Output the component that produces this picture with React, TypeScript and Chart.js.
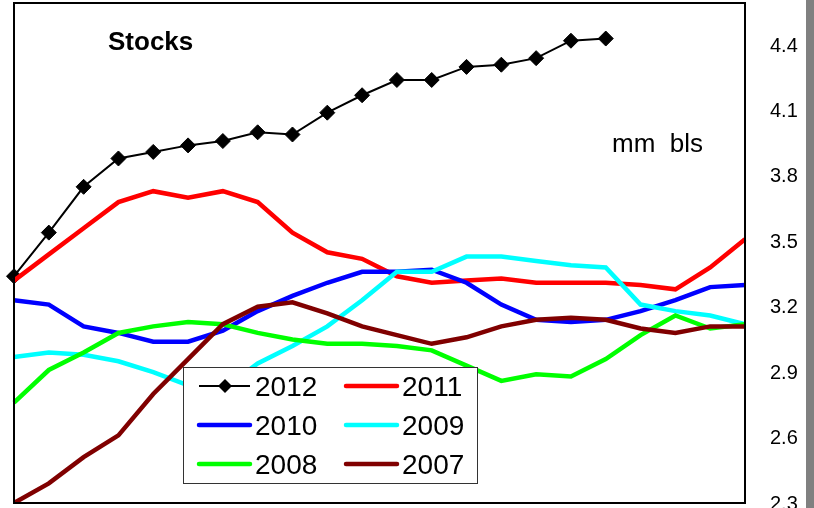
import React, { useEffect, useRef } from "react";
import { Chart, registerables } from "chart.js";

Chart.register(...registerables);

const categories = ["1", "2", "3", "4", "5", "6", "7", "8", "9", "10", "11", "12", "13", "14", "15", "16", "17", "18", "19", "20", "21", "22"];

const seriesLabels = ["2012", "2011", "2010", "2009", "2008", "2007"];

const s2012 = [3.34, 3.54, 3.75, 3.88, 3.91, 3.94, 3.96, 4.0, 3.99, 4.09, 4.17, 4.24, 4.24, 4.3, 4.31, 4.34, 4.42, 4.43];
const s2011 = [3.32, 3.44, 3.56, 3.68, 3.73, 3.7, 3.73, 3.68, 3.54, 3.45, 3.42, 3.34, 3.31, 3.32, 3.33, 3.31, 3.31, 3.31, 3.3, 3.28, 3.38, 3.51];
const s2010 = [3.23, 3.21, 3.11, 3.08, 3.04, 3.04, 3.09, 3.18, 3.25, 3.31, 3.36, 3.36, 3.37, 3.31, 3.21, 3.14, 3.13, 3.14, 3.18, 3.23, 3.29, 3.3];
const s2009 = [2.97, 2.99, 2.98, 2.95, 2.9, 2.84, 2.82, 2.94, 3.02, 3.11, 3.23, 3.36, 3.36, 3.43, 3.43, 3.41, 3.39, 3.38, 3.21, 3.18, 3.16, 3.12];
const s2008 = [2.76, 2.91, 2.99, 3.08, 3.11, 3.13, 3.12, 3.08, 3.05, 3.03, 3.03, 3.02, 3.0, 2.93, 2.86, 2.89, 2.88, 2.96, 3.07, 3.16, 3.1, 3.12];
const s2007 = [2.3, 2.39, 2.51, 2.61, 2.8, 2.96, 3.12, 3.2, 3.22, 3.17, 3.11, 3.07, 3.03, 3.06, 3.11, 3.14, 3.15, 3.14, 3.1, 3.08, 3.11, 3.11];

const yTicks = [2.3, 2.6, 2.9, 3.2, 3.5, 3.8, 4.1, 4.4];
const yMin = 2.3;
const yMax = 4.593;

const titleText = "Stocks";
const unitText = "mm  bls";

const FONT = '"Liberation Sans", Arial, sans-serif';

const decorPlugin = {
  id: "decor",
  afterDatasetsDraw(chart: any) {
    const { ctx, chartArea: a } = chart;
    ctx.save();
    // frame
    ctx.strokeStyle = "#000";
    ctx.lineWidth = 2;
    ctx.strokeRect(a.left, a.top, a.right - a.left, a.bottom - a.top);
    // right gray bar
    ctx.fillStyle = "#808080";
    ctx.fillRect(chart.width - 8, 0, 8, chart.height);
    // titles
    ctx.fillStyle = "#000";
    ctx.textBaseline = "middle";
    ctx.textAlign = "left";
    ctx.font = `bold 26px ${FONT}`;
    ctx.fillText(titleText, a.left + 94, 43);
    ctx.font = `26px ${FONT}`;
    ctx.fillText(unitText, a.left + 598, 145);

    // legend
    const lx = a.left + 169;
    const ly = 367;
    const lw = 294;
    const lh = 116;
    ctx.fillStyle = "#fff";
    ctx.fillRect(lx, ly, lw, lh);
    ctx.strokeStyle = "#333";
    ctx.lineWidth = 1;
    ctx.strokeRect(lx + 0.5, ly + 0.5, lw, lh);
    const dsets = chart.data.datasets;
    ctx.font = `28px ${FONT}`;
    dsets.forEach((ds: any, i: number) => {
      const col = i % 2;
      const row = Math.floor(i / 2);
      const x0 = lx + 16 + col * 147;
      const y = ly + 19 + row * 39;
      ctx.strokeStyle = ds.borderColor;
      ctx.lineWidth = ds.borderWidth;
      ctx.lineCap = ds.pointRadius > 0 ? "butt" : "round";
      ctx.beginPath();
      ctx.moveTo(x0, y);
      ctx.lineTo(x0 + 51, y);
      ctx.stroke();
      if (ds.pointRadius > 0) {
        const cx = x0 + 26;
        const r = 7;
        ctx.fillStyle = ds.borderColor;
        ctx.beginPath();
        ctx.moveTo(cx, y - r);
        ctx.lineTo(cx + r, y);
        ctx.lineTo(cx, y + r);
        ctx.lineTo(cx - r, y);
        ctx.closePath();
        ctx.fill();
      }
      ctx.fillStyle = "#000";
      ctx.fillText(ds.label, x0 + 56, y + 2);
    });
    ctx.restore();
  },
};

export default function App() {
  const ref = useRef<HTMLCanvasElement | null>(null);

  useEffect(() => {
    document.body.style.margin = "0";
    const canvas = ref.current!;
    const mk = (label: string, data: number[], color: string, order: number) => ({
      label,
      data,
      borderColor: color,
      backgroundColor: color,
      borderWidth: 4.5,
      pointRadius: 0,
      pointHoverRadius: 0,
      tension: 0,
      fill: false,
      order,
    });
    const chart = new Chart(canvas, {
      type: "line",
      data: {
        labels: categories,
        datasets: [
          {
            label: seriesLabels[0],
            data: s2012,
            borderColor: "#000000",
            backgroundColor: "#000000",
            borderWidth: 2,
            pointStyle: "rectRot",
            pointRadius: 7.5,
            pointBorderWidth: 1,
            pointBackgroundColor: "#000000",
            pointBorderColor: "#000000",
            tension: 0,
            fill: false,
            order: 5,
          },
          mk(seriesLabels[1], s2011, "#FF0000", 4),
          mk(seriesLabels[2], s2010, "#0000FF", 3),
          mk(seriesLabels[3], s2009, "#00FFFF", 2),
          mk(seriesLabels[4], s2008, "#00FF00", 1),
          mk(seriesLabels[5], s2007, "#800000", 0),
        ] as any,
      },
      options: {
        animation: false,
        responsive: false,
        devicePixelRatio: 1,
        layout: { autoPadding: false, padding: { left: 14, top: 3, right: 0, bottom: 5 } },
        plugins: {
          legend: { display: false },
          tooltip: { enabled: false },
          title: { display: false },
        },
        scales: {
          x: {
            type: "category",
            display: false,
            offset: false,
          },
          y: {
            position: "right",
            min: yMin,
            max: yMax,
            grid: { display: false, drawTicks: false },
            border: { display: false },
            afterBuildTicks: (scale: any) => {
              scale.ticks = yTicks.map((v) => ({ value: v }));
            },
            afterFit: (scale: any) => {
              scale.width = 69;
              scale.paddingTop = 0;
              scale.paddingBottom = 0;
            },
            ticks: {
              color: "#000",
              padding: 25,
              labelOffset: 1,
              font: { family: FONT, size: 20 },
              callback: (v: any) => Number(v).toFixed(1),
            },
          },
        },
      } as any,
      plugins: [decorPlugin],
    });
    return () => chart.destroy();
  }, []);

  return (
    <div style={{ position: "fixed", left: 0, top: 0, width: 814, height: 508, background: "#fff" }}>
      <canvas ref={ref} width={814} height={508} style={{ display: "block" }} />
    </div>
  );
}
